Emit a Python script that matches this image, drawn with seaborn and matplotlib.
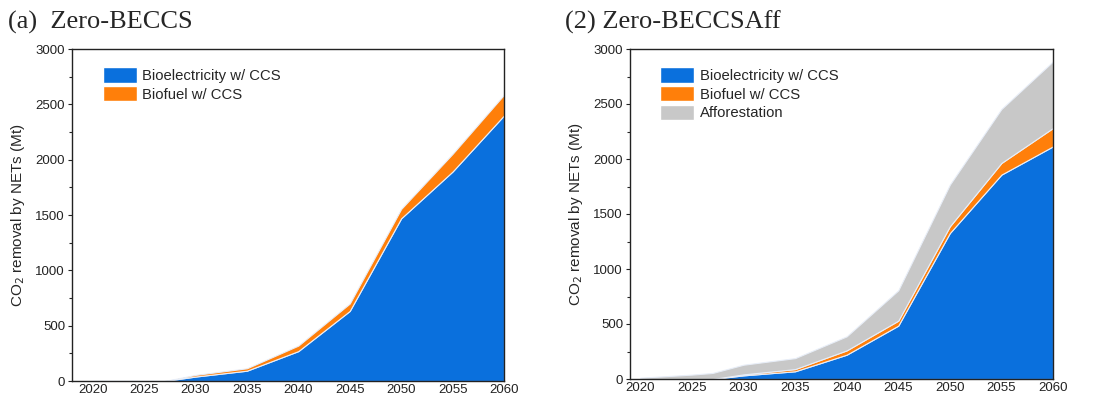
import numpy as np
import matplotlib.pyplot as plt
import seaborn as sns
from matplotlib.patches import Patch
from matplotlib.ticker import MultipleLocator

sns.set_style('ticks')
plt.rcParams['font.family'] = ['Liberation Sans', 'DejaVu Sans']

# Data (Mt CO2)
years = [2020, 2025, 2027, 2030, 2035, 2040, 2045, 2050, 2055, 2060]

# (a) Zero-BECCS
a_bioelec = [0, 0, 0, 40, 93, 270, 633, 1470, 1893, 2400]
a_biofuel = [0, 0, 0, 15, 22, 50, 67, 85, 160, 187]

# (2) Zero-BECCSAff
b_bioelec = [0, 0, 0, 33, 70, 221, 485, 1327, 1858, 2115]
b_biofuel = [0, 0, 0, 9, 20, 39, 45, 61, 106, 167]
b_afforest = [12, 40, 55, 88, 100, 128, 276, 379, 491, 606]

labels = ['Bioelectricity w/ CCS', 'Biofuel w/ CCS', 'Afforestation']
colors = ['#0A70DD', '#FF7F0A', '#C8C8C8']

fig = plt.figure(figsize=(10.94, 4.0), dpi=100)
ax1 = fig.add_axes([72 / 1094, 19 / 400, 432 / 1094, 332 / 400])
ax2 = fig.add_axes([630 / 1094, 21 / 400, 423 / 1094, 330 / 400])


def style_axis(ax, xmin):
    ax.set_xlim(xmin, 2060)
    ax.set_ylim(0, 3000)
    ax.set_xticks(range(2020, 2061, 5))
    ax.yaxis.set_major_locator(MultipleLocator(500))
    ax.yaxis.set_minor_locator(MultipleLocator(250))
    ax.tick_params(axis='both', which='major', labelsize=9.5, length=3, width=0.8,
                   direction='out', pad=2, colors='#222222')
    ax.tick_params(axis='y', which='minor', length=2, width=0.8, direction='out')
    ax.tick_params(axis='x', which='major', length=0)
    for s in ax.spines.values():
        s.set_visible(True)
        s.set_linewidth(1.0)
        s.set_color('#222222')
    ax.set_ylabel('CO$_2$ removal by NETs (Mt)', fontsize=11, labelpad=6)


def add_legend(ax, n):
    ax.legend(handles=[Patch(facecolor=c, label=l) for c, l in zip(colors[:n], labels[:n])],
              loc='upper left', bbox_to_anchor=(0.04, 0.985), frameon=False,
              fontsize=10.7, handlelength=2.3, handleheight=1.2, labelspacing=0.2,
              handletextpad=0.35)


# Panel (a)
ax1.stackplot(years, a_bioelec, a_biofuel, colors=colors[:2],
              edgecolor='#E8EEF8', linewidth=0.8)
style_axis(ax1, 2018)
add_legend(ax1, 2)

# Panel (2)
ax2.stackplot(years, b_bioelec, b_biofuel, b_afforest, colors=colors,
              edgecolor='#E8EEF8', linewidth=0.8)
style_axis(ax2, 2019)
add_legend(ax2, 3)

fig.text(8 / 1094, 1 - 22 / 400, '(a)  Zero-BECCS', fontsize=19,
         family='Liberation Serif', va='center', ha='left')
fig.text(565 / 1094, 1 - 22 / 400, '(2) Zero-BECCSAff', fontsize=19,
         family='Liberation Serif', va='center', ha='left')

fig.savefig('out.png', dpi=100)
